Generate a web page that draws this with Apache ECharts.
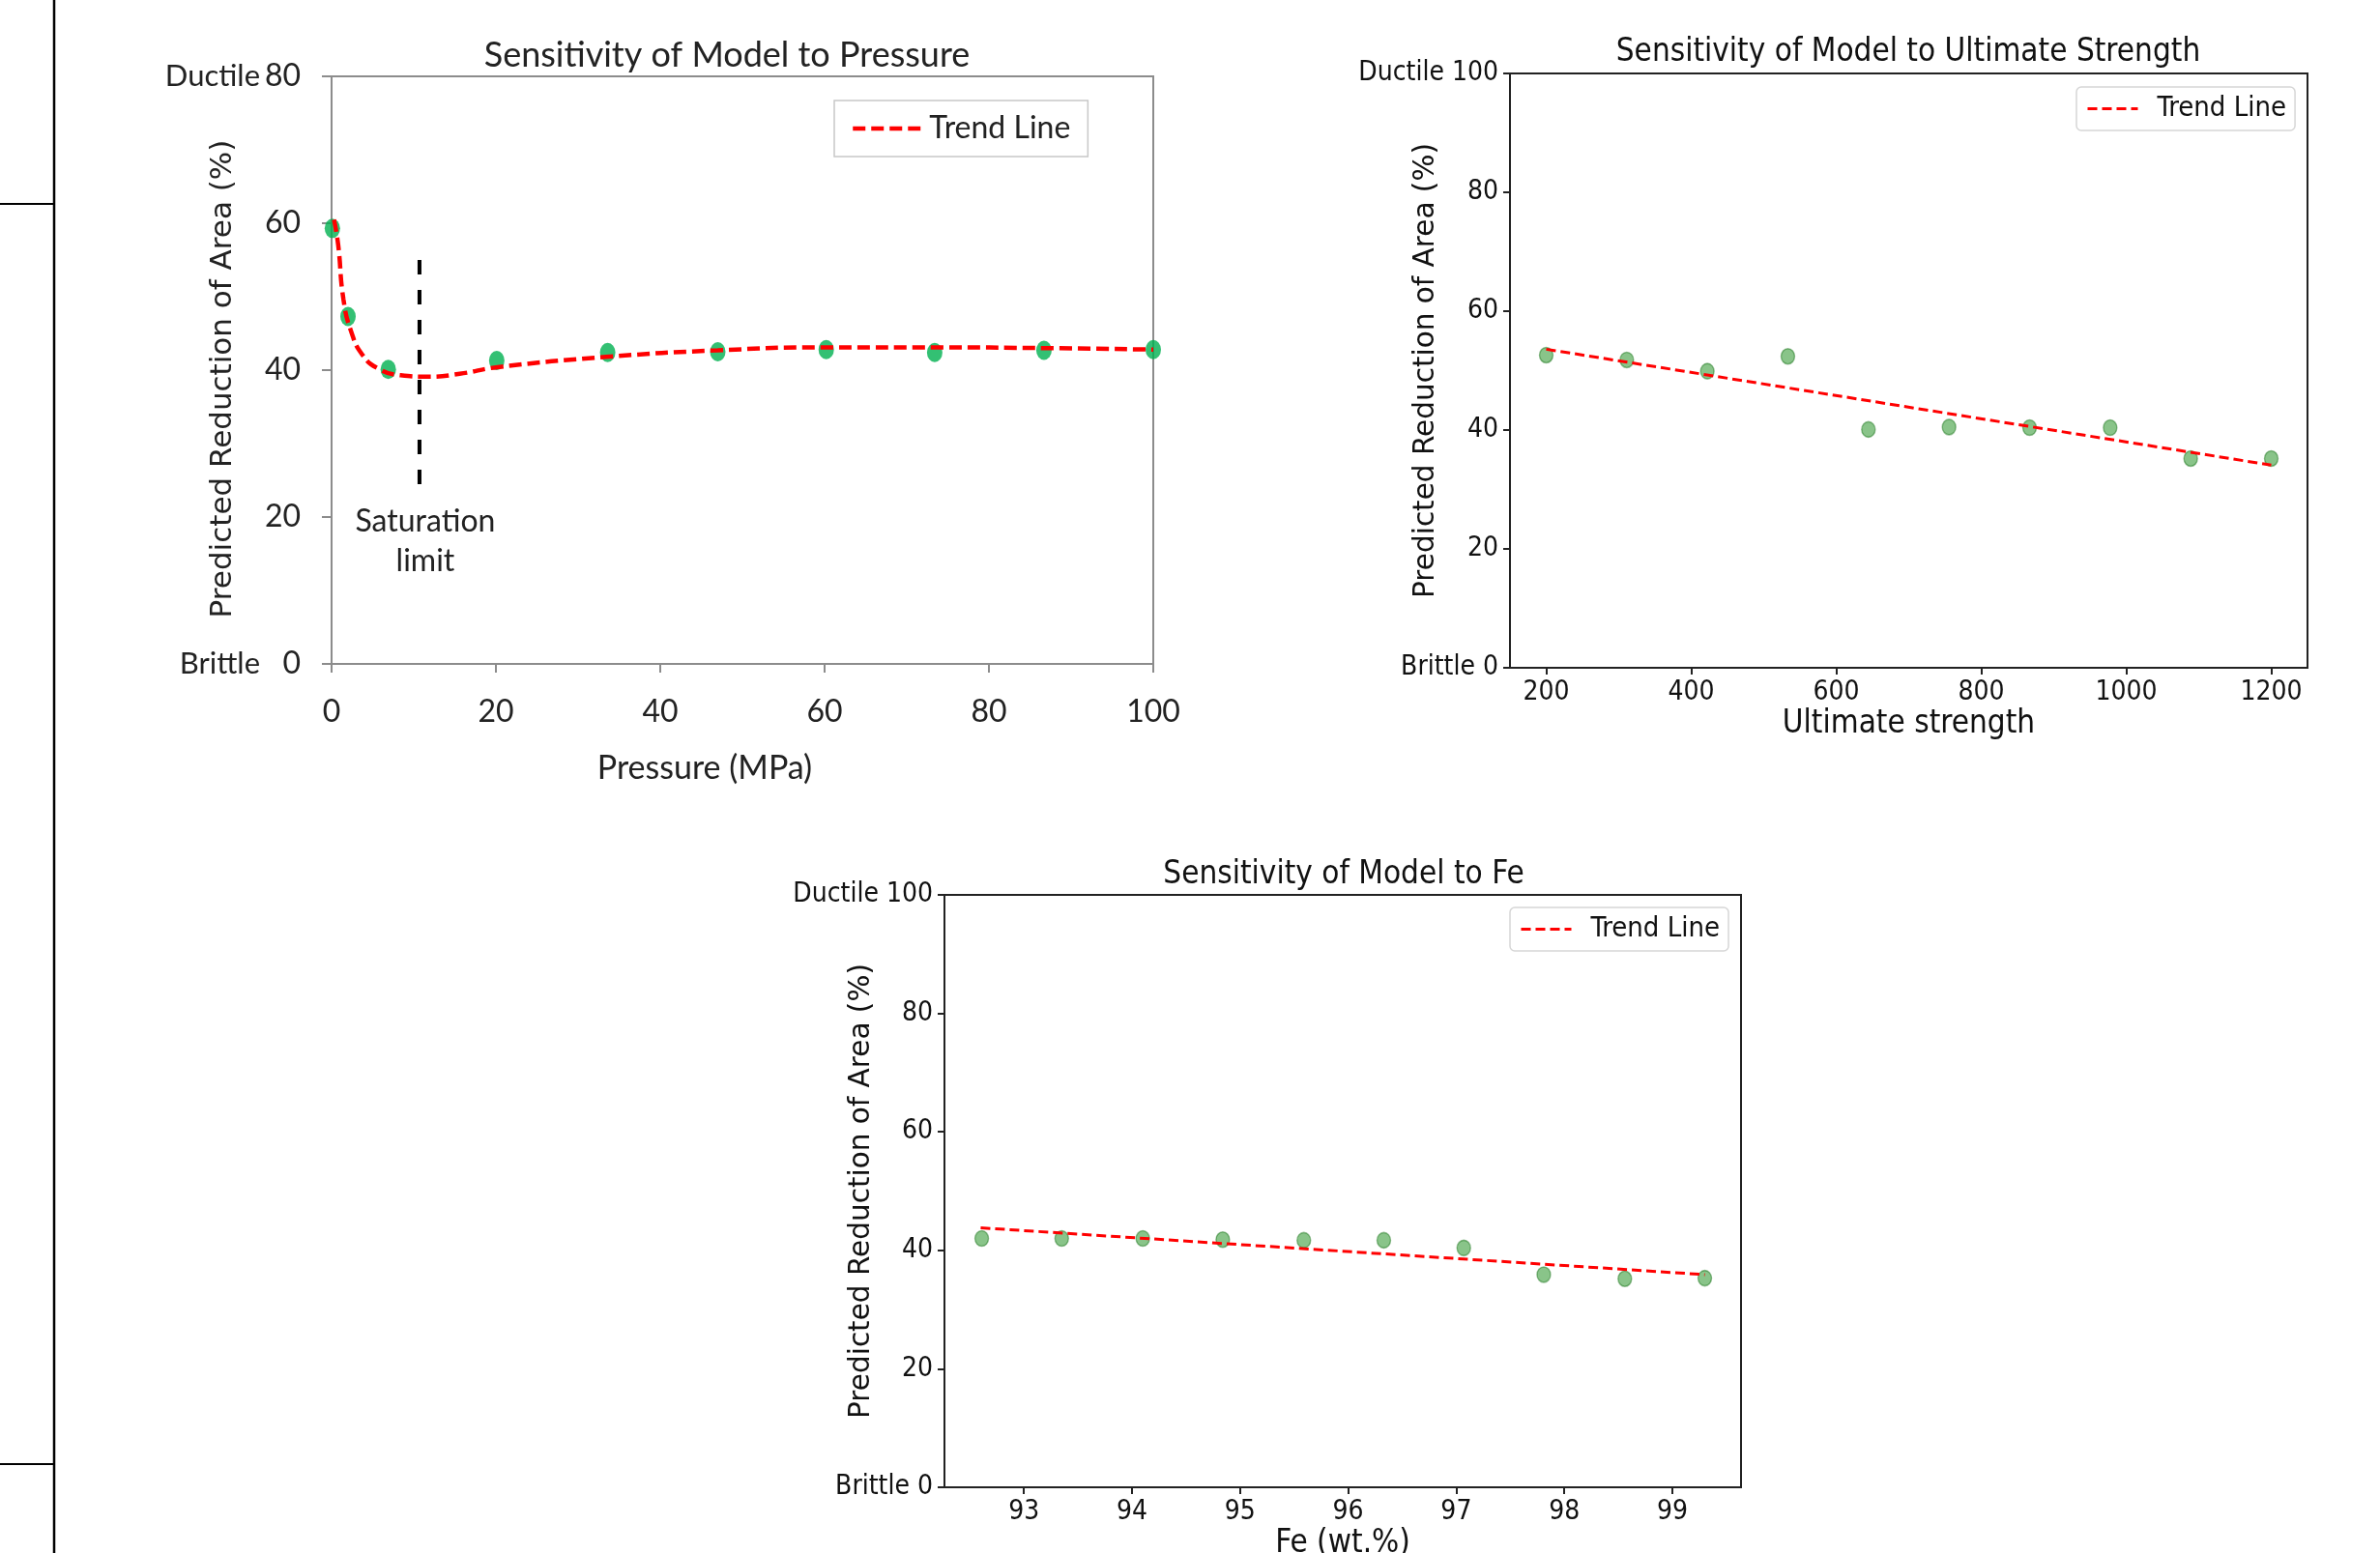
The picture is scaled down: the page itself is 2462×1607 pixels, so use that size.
<!DOCTYPE html>
<html>
<head>
<meta charset="utf-8">
<title>Sensitivity of Model</title>
<script src="https://cdn.jsdelivr.net/npm/echarts@6/dist/echarts.min.js"></script>
<style>
  html, body { margin: 0; padding: 0; background: #fff; }
  #chart { width: 2462px; height: 1607px; }
</style>
</head>
<body>
<div id="chart"></div>
<script>
// --- pressure (top left) ---
var pressureX = [0.1, 2.0, 6.9, 20.1, 33.6, 47.0, 60.2, 73.4, 86.7, 100];
var pressureY = [59.3, 47.3, 40.1, 41.3, 42.4, 42.5, 42.8, 42.4, 42.7, 42.8];
var pressureTrendX = [0.3, 0.8, 1.45, 2.4, 3.75, 5.7, 8.4, 11.7, 15.6, 20.2, 33.4, 47.0, 60.2, 73.4, 86.7, 100];
var pressureTrendY = [60.5, 57.1, 49.6, 45.2, 42.1, 40.2, 39.3, 39.1, 39.5, 40.4, 41.8, 42.7, 43.1, 43.1, 43.0, 42.8];
var saturationX = [10.7, 10.7];
var saturationY = [55.0, 23.3];

// --- ultimate strength (top right) ---
var strengthX = [200, 311.1, 422.2, 533.3, 644.4, 755.6, 866.7, 977.8, 1088.9, 1200];
var strengthY = [52.6, 51.8, 49.9, 52.4, 40.1, 40.5, 40.4, 40.4, 35.2, 35.2];
var strengthTrendX = [200, 1200];
var strengthTrendY = [53.6, 34.1];
var strengthTicks = [200, 400, 600, 800, 1000, 1200];

// --- Fe (bottom) ---
var feX = [92.61, 93.35, 94.10, 94.84, 95.59, 96.33, 97.07, 97.81, 98.56, 99.30];
var feY = [42.0, 42.0, 42.0, 41.8, 41.7, 41.7, 40.4, 35.9, 35.2, 35.3];
var feTrendX = [92.6, 99.3];
var feTrendY = [43.8, 35.9];
var feTicks = [93, 94, 95, 96, 97, 98, 99];

function pairs(xs, ys) {
  return xs.map(function (x, i) { return [x, ys[i]]; });
}

var excelFont = 'Lato';
var mplFont = 'DejaVu Sans Condensed';

// matplotlib style axes for the two right hand charts
function mplX(idx, name, min, max, ticks) {
  return {
    gridIndex: idx, type: 'value', min: min, max: max,
    name: name, nameLocation: 'middle', nameGap: 42, nameMoveOverlap: false,
    nameTextStyle: { fontFamily: mplFont, fontSize: 33, color: '#111' },
    splitLine: { show: false },
    axisLine: { show: true, onZero: false, lineStyle: { color: '#222', width: 2 } },
    axisTick: { show: true, length: 7, customValues: ticks, lineStyle: { color: '#222', width: 2 } },
    axisLabel: { customValues: ticks, margin: 12, fontFamily: mplFont, fontSize: 28, color: '#111',
      formatter: function (v) { return String(v); } }
  };
}
function mplY(idx, gap) {
  return {
    gridIndex: idx, type: 'value', min: 0, max: 100, interval: 20,
    name: 'Predicted Reduction of Area (%)', nameLocation: 'middle', nameGap: gap, nameMoveOverlap: false,
    nameTextStyle: { fontFamily: 'DejaVu Sans', fontSize: 29.5, color: '#111' },
    splitLine: { show: false },
    axisLine: { show: true, lineStyle: { color: '#222', width: 2 } },
    axisTick: { show: true, length: 7, lineStyle: { color: '#222', width: 2 } },
    axisLabel: {
      margin: 12, fontFamily: mplFont, fontSize: 28, color: '#111',
      formatter: function (v) {
        if (v === 100) return 'Ductile 100';
        if (v === 0) return 'Brittle 0';
        return v;
      }
    }
  };
}

function mplLegend(left, top) {
  return {
    left: left, top: top, padding: [8, 9, 8, 10], itemWidth: 52, itemHeight: 14,
    borderColor: '#d6d6d6', borderWidth: 1.5, borderRadius: 5,
    textStyle: { fontFamily: mplFont, fontSize: 29, color: '#111', padding: [0, 0, 0, 15] },
    data: [{ name: 'Trend Line', itemStyle: { opacity: 0 },
      lineStyle: { color: '#ff0000', width: 3, type: [10, 5] } }]
  };
}

var greenDot = { color: 'rgba(0,128,0,0.58)', borderColor: 'rgba(0,100,0,0.5)', borderWidth: 1.5 };

var chart = echarts.init(document.getElementById('chart'));

chart.setOption({
  animation: false,
  backgroundColor: '#fff',
  title: [
    { text: 'Sensitivity of Model to Pressure', left: 752, top: 39, textAlign: 'center', padding: 0,
      textStyle: { fontFamily: excelFont, fontSize: 36, fontWeight: 'normal', color: '#222' } },
    { text: 'Sensitivity of Model to Ultimate Strength', left: 1974, top: 38, textAlign: 'center', padding: 0,
      textStyle: { fontFamily: mplFont, fontSize: 33, fontWeight: 'normal', color: '#111' } },
    { text: 'Sensitivity of Model to Fe', left: 1390, top: 889, textAlign: 'center', padding: 0,
      textStyle: { fontFamily: mplFont, fontSize: 33, fontWeight: 'normal', color: '#111' } }
  ],
  legend: [
    { left: 863, top: 104, padding: [13, 18, 13, 17], itemWidth: 70, itemHeight: 14,
      borderColor: '#c8c8c8', borderWidth: 1.5,
      textStyle: { fontFamily: excelFont, fontSize: 32, color: '#222', padding: [0, 0, 0, 4] },
      data: [{ name: 'Trend Line', itemStyle: { opacity: 0 },
        lineStyle: { color: '#ff0000', width: 4.5, type: [13, 6] } }] },
    mplLegend(2148, 90),
    mplLegend(1562, 939)
  ],
  grid: [
    { left: 343, top: 79, width: 850, height: 608, outerBoundsMode: 'none',
      show: true, borderColor: '#8c8c8c', borderWidth: 2 },
    { left: 1562, top: 76, width: 825, height: 615, outerBoundsMode: 'none',
      show: true, borderColor: '#222', borderWidth: 2 },
    { left: 977, top: 926, width: 824, height: 613, outerBoundsMode: 'none',
      show: true, borderColor: '#222', borderWidth: 2 }
  ],
  xAxis: [
    {
      gridIndex: 0, type: 'value', min: 0, max: 100, interval: 20,
      name: 'Pressure (MPa)', nameLocation: 'middle', nameGap: 91, nameMoveOverlap: false,
      nameTextStyle: { fontFamily: excelFont, fontSize: 34, color: '#222', padding: [0, 78, 0, 0] },
      splitLine: { show: false },
      axisLine: { show: true, lineStyle: { color: '#8c8c8c', width: 2 } },
      axisTick: { show: true, length: 9, lineStyle: { color: '#8c8c8c', width: 2 } },
      axisLabel: { margin: 34, fontFamily: excelFont, fontSize: 32, color: '#222' }
    },
    mplX(1, 'Ultimate strength', 150, 1250, strengthTicks),
    mplX(2, 'Fe (wt.%)', 92.265, 99.635, feTicks)
  ],
  yAxis: [
    {
      gridIndex: 0, type: 'value', min: 0, max: 80, interval: 20,
      name: 'Predicted Reduction of Area (%)', nameLocation: 'middle', nameGap: 97, nameMoveOverlap: false,
      nameTextStyle: { fontFamily: 'DejaVu Sans', fontSize: 31, color: '#222', padding: [0, 18, 0, 0] },
      splitLine: { show: false },
      axisLine: { show: true, lineStyle: { color: '#8c8c8c', width: 2 } },
      axisTick: { show: true, length: 10, lineStyle: { color: '#8c8c8c', width: 2 } },
      axisLabel: {
        margin: 32,
        formatter: function (v) {
          if (v === 80) return '{w|Ductile}{n|80}';
          if (v === 0) return '{w|Brittle}{n|0}';
          return '{n|' + v + '}';
        },
        rich: {
          w: { fontFamily: excelFont, fontSize: 31, color: '#222' },
          n: { fontFamily: excelFont, fontSize: 32, color: '#222', width: 42, align: 'right' }
        }
      }
    },
    mplY(1, 72),
    mplY(2, 71)
  ],
  series: [
    {
      name: 'Trend Line', type: 'line', xAxisIndex: 0, yAxisIndex: 0,
      data: pairs(pressureTrendX, pressureTrendY),
      smooth: 0.5, symbol: 'none', z: 3,
      lineStyle: { color: '#ff0000', width: 4.5, type: [13, 6] }
    },
    {
      name: 'Pressure', type: 'scatter', xAxisIndex: 0, yAxisIndex: 0,
      data: pairs(pressureX, pressureY), symbol: 'circle', symbolSize: [16, 20], z: 2,
      itemStyle: { color: '#00b050' }
    },
    {
      name: 'Saturation limit', type: 'line', xAxisIndex: 0, yAxisIndex: 0,
      data: [
        [saturationX[0], saturationY[0]],
        { value: [saturationX[1], saturationY[1]],
          label: { show: true, position: 'bottom', distance: 9, offset: [6, 0],
            formatter: 'Saturation\nlimit', fontFamily: excelFont, fontSize: 32,
            lineHeight: 41, color: '#222' } }
      ],
      symbol: 'circle', symbolSize: 1, showSymbol: true, z: 4,
      itemStyle: { color: 'rgba(0,0,0,0)' },
      lineStyle: { color: '#000', width: 4, type: [15, 16] }
    },
    {
      name: 'Trend Line', type: 'line', xAxisIndex: 1, yAxisIndex: 1,
      data: pairs(strengthTrendX, strengthTrendY), symbol: 'none', z: 3,
      lineStyle: { color: '#ff0000', width: 3, type: [10, 5] }
    },
    {
      name: 'Ultimate strength', type: 'scatter', xAxisIndex: 1, yAxisIndex: 1,
      data: pairs(strengthX, strengthY), symbol: 'circle', symbolSize: [14, 16], z: 2,
      itemStyle: greenDot
    },
    {
      name: 'Trend Line', type: 'line', xAxisIndex: 2, yAxisIndex: 2,
      data: pairs(feTrendX, feTrendY), symbol: 'none', z: 3,
      lineStyle: { color: '#ff0000', width: 3, type: [10, 5] }
    },
    {
      name: 'Fe', type: 'scatter', xAxisIndex: 2, yAxisIndex: 2,
      data: pairs(feX, feY), symbol: 'circle', symbolSize: [14, 16], z: 2,
      itemStyle: greenDot
    }
  ],
  // page frame lines at the left edge
  graphic: [
    { type: 'line', shape: { x1: 56, y1: 0, x2: 56, y2: 1607 }, style: { stroke: '#000', lineWidth: 2.5 } },
    { type: 'line', shape: { x1: 0, y1: 211, x2: 56, y2: 211 }, style: { stroke: '#000', lineWidth: 2 } },
    { type: 'line', shape: { x1: 0, y1: 1515, x2: 56, y2: 1515 }, style: { stroke: '#000', lineWidth: 2 } }
  ]
});
</script>
</body>
</html>
